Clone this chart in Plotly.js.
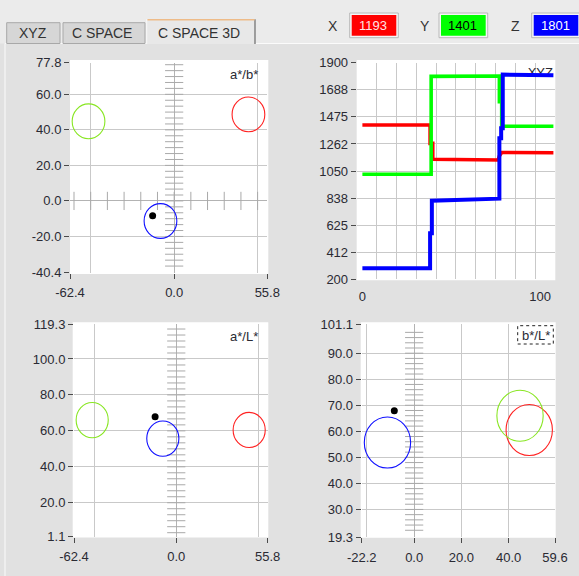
<!DOCTYPE html>
<html>
<head>
<meta charset="utf-8">
<script src="https://cdn.plot.ly/plotly-3.0.1.min.js"></script>
<style>
html,body{margin:0;padding:0;background:#e1e1e1;}
#chart{width:579px;height:576px;}
</style>
</head>
<body>
<div id="chart"></div>
<script>
// ---------------- DATA ----------------
const tabLabels = ['XYZ', 'C SPACE', 'C SPACE 3D'];
const indicatorNames = ['X', 'Y', 'Z'];
const indicatorValues = [1193, 1401, 1801];

// colour targets (tolerance circles): red, green, blue
const targetColors = ['#ff2222', '#88e622', '#1010ff'];
const targetA = [44.5, -51.3, -8.2];
const targetB = [48.7, 44.8, -11.3];
const targetL = [60.5, 66.0, 55.7];
const targetRadius = [9.8, 9.8, 9.8];

// current measurement (black dot)
const currentA = [-12.9];
const currentB = [-8.4];
const currentL = [67.9];

// XYZ history (sample index, value)
const tX = [0, 38.1, 38.1, 39.6, 39.6, 76.4, 77.1, 78.4, 107.5];
const valX = [1411, 1411, 1267, 1267, 1142, 1136, 1168, 1195, 1193];
const tY = [0, 38.7, 38.7, 77.1, 77.1, 78.4, 78.4, 107.5];
const valY = [1024, 1024, 1793, 1796, 1594, 1594, 1401, 1401];
const tZ = [0, 38.1, 38.1, 39.1, 39.1, 57, 77.1, 77.1, 78.1, 78.1, 79.0, 79.0, 107.5];
const valZ = [286, 286, 561, 561, 817, 822, 833, 1307, 1307, 1385, 1385, 1807, 1801];

// axis ticks
const abXTicks = [-62.4, 0.0, 55.8];
const abYTicks = [77.8, 60.0, 40.0, 20.0, 0.0, -20.0, -40.4];
const aLYTicks = [119.3, 100.0, 80.0, 60.0, 40.0, 20.0, 1.1];
const bLXTicks = [-22.2, 0.0, 20.0, 40.0, 59.6];
const bLYTicks = [101.1, 90.0, 80.0, 70.0, 60.0, 50.0, 40.0, 30.0, 19.3];
const xyzYTicks = [1900, 1688, 1475, 1262, 1050, 838, 625, 412, 200];
const xyzXTicks = [0, 100];
const xyzXRange = [-3.2, 108.4];

// ---------------- STYLE ----------------
const W = 579, H = 576;
const FONT = 'Liberation Sans, Arial, sans-serif';
const TXT = '#2a2a33';
const GRID = '#c9c9c9';
const ZERO = '#b3b3b3';
const MINOR = '#a9a9a9';
const px = v => v / W;
const py = v => 1 - v / H;
const f1 = arr => arr.map(v => v.toFixed(1));

function baseAxis(extra) {
  return Object.assign({
    fixedrange: true, automargin: false, showline: false,
    ticks: 'outside', ticklen: 5, tickwidth: 1, tickcolor: '#4a4a4a',
    tickfont: {family: FONT, size: 13, color: TXT},
    showgrid: true, gridcolor: GRID, gridwidth: 1,
    zeroline: false, tickmode: 'array'
  }, extra);
}

// decorative ticks on the zero axes
function steps(from, to, step) { const o = []; for (let k = from; k <= to; k++) o.push(k * step); return o; }
const abHMarks = steps(-6, 5, 10);
const abVMarks = steps(-11, 23, 10 / 3);
const aLVMarks = steps(1, 35, 10 / 3);
const bLVMarks = steps(11, 49, 2);

const xyzGrid = [];
for (let k = 0; k <= 10; k++) xyzGrid.push(xyzXRange[0] + k * (xyzXRange[1] - xyzXRange[0]) / 10);

// ---------------- TRACES ----------------
const skip = {hoverinfo: 'skip', showlegend: false};
const traces = [];
function marks(xs, ys, sym, xa, ya) {
  traces.push(Object.assign({type: 'scatter', mode: 'markers', x: xs, y: ys, xaxis: xa, yaxis: ya,
    marker: {symbol: sym, size: 13, color: MINOR, line: {width: 1, color: MINOR}}}, skip));
}
marks(abHMarks, abHMarks.map(() => 0), 'line-ns', 'x', 'y');
marks(abVMarks.map(() => 0), abVMarks, 'line-ew', 'x', 'y');
marks(aLVMarks.map(() => 0), aLVMarks, 'line-ew', 'x3', 'y3');
marks(bLVMarks.map(() => 0), bLVMarks, 'line-ew', 'x4', 'y4');

function dot(xs, ys, xa, ya) {
  traces.push(Object.assign({type: 'scatter', mode: 'markers', x: xs, y: ys, xaxis: xa, yaxis: ya,
    marker: {size: 7, color: '#000'}}, skip));
}
dot(currentA, currentB, 'x', 'y');
dot(currentA, currentL, 'x3', 'y3');
dot(currentB, currentL, 'x4', 'y4');

// "XYZ" caption drawn under the curves (position from its pixel place in the panel)
const p2 = {l: 356.7, r: 555, t: 62.7, b: 279.3};
const capX = xyzXRange[0] + (553 - p2.l) / (p2.r - p2.l) * (xyzXRange[1] - xyzXRange[0]);
const capY = 1900 - (73.5 - p2.t) / (p2.b - p2.t) * (1900 - 200);
traces.push(Object.assign({type: 'scatter', mode: 'text', x: [capX], y: [capY], xaxis: 'x2', yaxis: 'y2',
  text: ['XYZ'], textposition: 'middle left', textfont: {family: FONT, size: 13, color: TXT}, cliponaxis: false}, skip));

traces.push(Object.assign({type: 'scatter', mode: 'lines', x: tX, y: valX, xaxis: 'x2', yaxis: 'y2', line: {color: '#ff0000', width: 3.6}}, skip));
traces.push(Object.assign({type: 'scatter', mode: 'lines', x: tY, y: valY, xaxis: 'x2', yaxis: 'y2', line: {color: '#00ff00', width: 3.6}}, skip));
traces.push(Object.assign({type: 'scatter', mode: 'lines', x: tZ, y: valZ, xaxis: 'x2', yaxis: 'y2', line: {color: '#0000ff', width: 4}}, skip));

// ---------------- SHAPES ----------------
const shapes = [];
function prect(x0, y0, x1, y1, fill, line, lw, layer, dash) {
  shapes.push({type: 'rect', xref: 'paper', yref: 'paper', x0: px(x0), x1: px(x1), y0: py(y1), y1: py(y0),
    fillcolor: fill, line: {color: line || 'rgba(0,0,0,0)', width: lw || 0, dash: dash || 'solid'}, layer: layer || 'above'});
}
function pline(x0, y0, x1, y1, color, w) {
  shapes.push({type: 'line', xref: 'paper', yref: 'paper', x0: px(x0), x1: px(x1), y0: py(y0), y1: py(y1),
    line: {color: color, width: w || 1}, layer: 'above'});
}
// white plot areas
prect(70, 60, 268.3, 274, '#ffffff', null, 0, 'below');
prect(356.7, 60, 555.3, 280.3, '#ffffff', null, 0, 'below');
prect(72.7, 322.3, 268.3, 537.5, '#ffffff', null, 0, 'below');
prect(360.7, 322.3, 555.7, 537.8, '#ffffff', null, 0, 'below');

// tab strip
prect(0, 0, 579, 43.5, '#ebebeb', null, 0, 'below');
pline(5, 43.5, 579, 43.5, '#fbfbfb', 1);
pline(5, 43.5, 5, 576, '#fbfbfb', 1);
prect(6.7, 22.7, 60, 43.5, '#d6d6d6', '#a8a8a8', 1);
prect(63, 22.7, 145, 43.5, '#d6d6d6', '#a8a8a8', 1);
prect(146.7, 19.3, 255, 44, '#e8e8e8', null, 0);
pline(146.7, 19.3, 146.7, 44, '#f8f8f8', 1);
pline(255, 19.3, 255, 44, '#6a6a6a', 1.2);
pline(147.5, 19.8, 254.5, 19.8, '#eebb88', 1.6);

// indicators
const boxX = [[350.7, 397.3], [440, 486.7], [532.7, 579.3]];
const boxFill = ['#ff0000', '#00ff00', '#0000ff'];
for (let i = 0; i < 3; i++) {
  prect(boxX[i][0] - 1, 13, boxX[i][1] + 1, 37.7, '#f6f6f6', '#b8b8b8', 1);
  prect(boxX[i][0] + 1, 15, boxX[i][1] - 1, 35.7, boxFill[i], null, 0);
}

// tolerance circles
function circles(xs, ys, xa, ya) {
  for (let i = 0; i < xs.length; i++) {
    const r = targetRadius[i];
    shapes.push({type: 'circle', xref: xa, yref: ya, x0: xs[i] - r, x1: xs[i] + r, y0: ys[i] - r, y1: ys[i] + r,
      line: {color: targetColors[i], width: 1.1}, layer: 'above'});
  }
}
circles(targetA, targetB, 'x', 'y');
circles(targetA, targetL, 'x3', 'y3');
circles(targetB, targetL, 'x4', 'y4');

// dotted focus box around b*/L*
prect(517.7, 325.7, 553.3, 344, 'rgba(0,0,0,0)', '#222', 1, 'above', 'dot');

// ---------------- ANNOTATIONS ----------------
const annotations = [];
function ptext(x, y, text, opts) {
  annotations.push(Object.assign({xref: 'paper', yref: 'paper', x: px(x), y: py(y), text: text, showarrow: false,
    xanchor: 'center', yanchor: 'middle', font: {family: FONT, size: 13, color: TXT}}, opts || {}));
}
const tabCenters = [33.3, 102, 199];
tabLabels.forEach((t, i) => ptext(tabCenters[i], 33, t, {font: {family: FONT, size: 14, color: '#333'}}));
const nameX = [333.3, 425, 515];
const valColors = ['#ffe4e4', '#000000', '#ffffff'];
indicatorNames.forEach((n, i) => {
  ptext(nameX[i], 25.5, n, {font: {family: FONT, size: 14, color: '#333'}});
  ptext((boxX[i][0] + boxX[i][1]) / 2 - 1, 25.5, String(indicatorValues[i]), {font: {family: FONT, size: 13, color: valColors[i]}});
});
ptext(260, 74, 'a*/b*', {xanchor: 'right'});
ptext(260, 336, 'a*/L*', {xanchor: 'right'});
ptext(535.5, 335, 'b*/L*');

// ---------------- LAYOUT ----------------
const layout = {
  width: W, height: H,
  margin: {l: 0, r: 0, t: 0, b: 0},
  paper_bgcolor: '#e1e1e1',
  plot_bgcolor: 'rgba(0,0,0,0)',
  showlegend: false,
  font: {family: FONT, size: 13, color: TXT},
  xaxis: baseAxis({domain: [px(70), px(267.3)], anchor: 'y', range: [abXTicks[0], abXTicks[2]],
    tickvals: abXTicks, ticktext: f1(abXTicks), showgrid: false, zeroline: true, zerolinecolor: ZERO, zerolinewidth: 1,
    ticklabelstandoff: 3,
    minor: {tickmode: 'array', tickvals: [-50, 50], showgrid: true, gridcolor: GRID, ticks: ''}}),
  yaxis: baseAxis({domain: [py(272.7), py(62.7)], anchor: 'x', range: [abYTicks[6], abYTicks[0]],
    tickvals: abYTicks, ticktext: f1(abYTicks), zeroline: true, zerolinecolor: ZERO, zerolinewidth: 1}),
  xaxis2: baseAxis({domain: [px(p2.l), px(p2.r)], anchor: 'y2', range: xyzXRange,
    tickvals: xyzXTicks, ticktext: xyzXTicks.map(String), ticks: '', showgrid: false, ticklabelstandoff: 8,
    minor: {tickmode: 'array', tickvals: xyzGrid, showgrid: true, gridcolor: GRID, ticks: ''}}),
  yaxis2: baseAxis({domain: [py(p2.b), py(p2.t)], anchor: 'x2', range: [200, 1900],
    tickvals: xyzYTicks, ticktext: xyzYTicks.map(String)}),
  xaxis3: baseAxis({domain: [px(74), px(267.7)], anchor: 'y3', range: [abXTicks[0], abXTicks[2]],
    tickvals: abXTicks, ticktext: f1(abXTicks), showgrid: false, zeroline: true, zerolinecolor: ZERO, zerolinewidth: 1,
    ticklabelstandoff: 3,
    minor: {tickmode: 'array', tickvals: [-50, 50], showgrid: true, gridcolor: GRID, ticks: ''}}),
  yaxis3: baseAxis({domain: [py(536.7), py(324.3)], anchor: 'x3', range: [aLYTicks[6], aLYTicks[0]],
    tickvals: aLYTicks, ticktext: f1(aLYTicks)}),
  xaxis4: baseAxis({domain: [px(361.7), px(555)], anchor: 'y4', range: [bLXTicks[0], bLXTicks[4]],
    tickvals: bLXTicks, ticktext: f1(bLXTicks), showgrid: false, zeroline: true, zerolinecolor: ZERO, zerolinewidth: 1,
    ticklabelstandoff: 3,
    minor: {tickmode: 'array', tickvals: [-20, 20, 40, 59.6], showgrid: true, gridcolor: GRID, ticks: ''}}),
  yaxis4: baseAxis({domain: [py(537.3), py(324.3)], anchor: 'x4', range: [bLYTicks[8], bLYTicks[0]],
    tickvals: bLYTicks, ticktext: f1(bLYTicks)}),
  shapes: shapes,
  annotations: annotations
};

Plotly.newPlot('chart', traces, layout, {staticPlot: true, displayModeBar: false});
</script>
</body>
</html>
